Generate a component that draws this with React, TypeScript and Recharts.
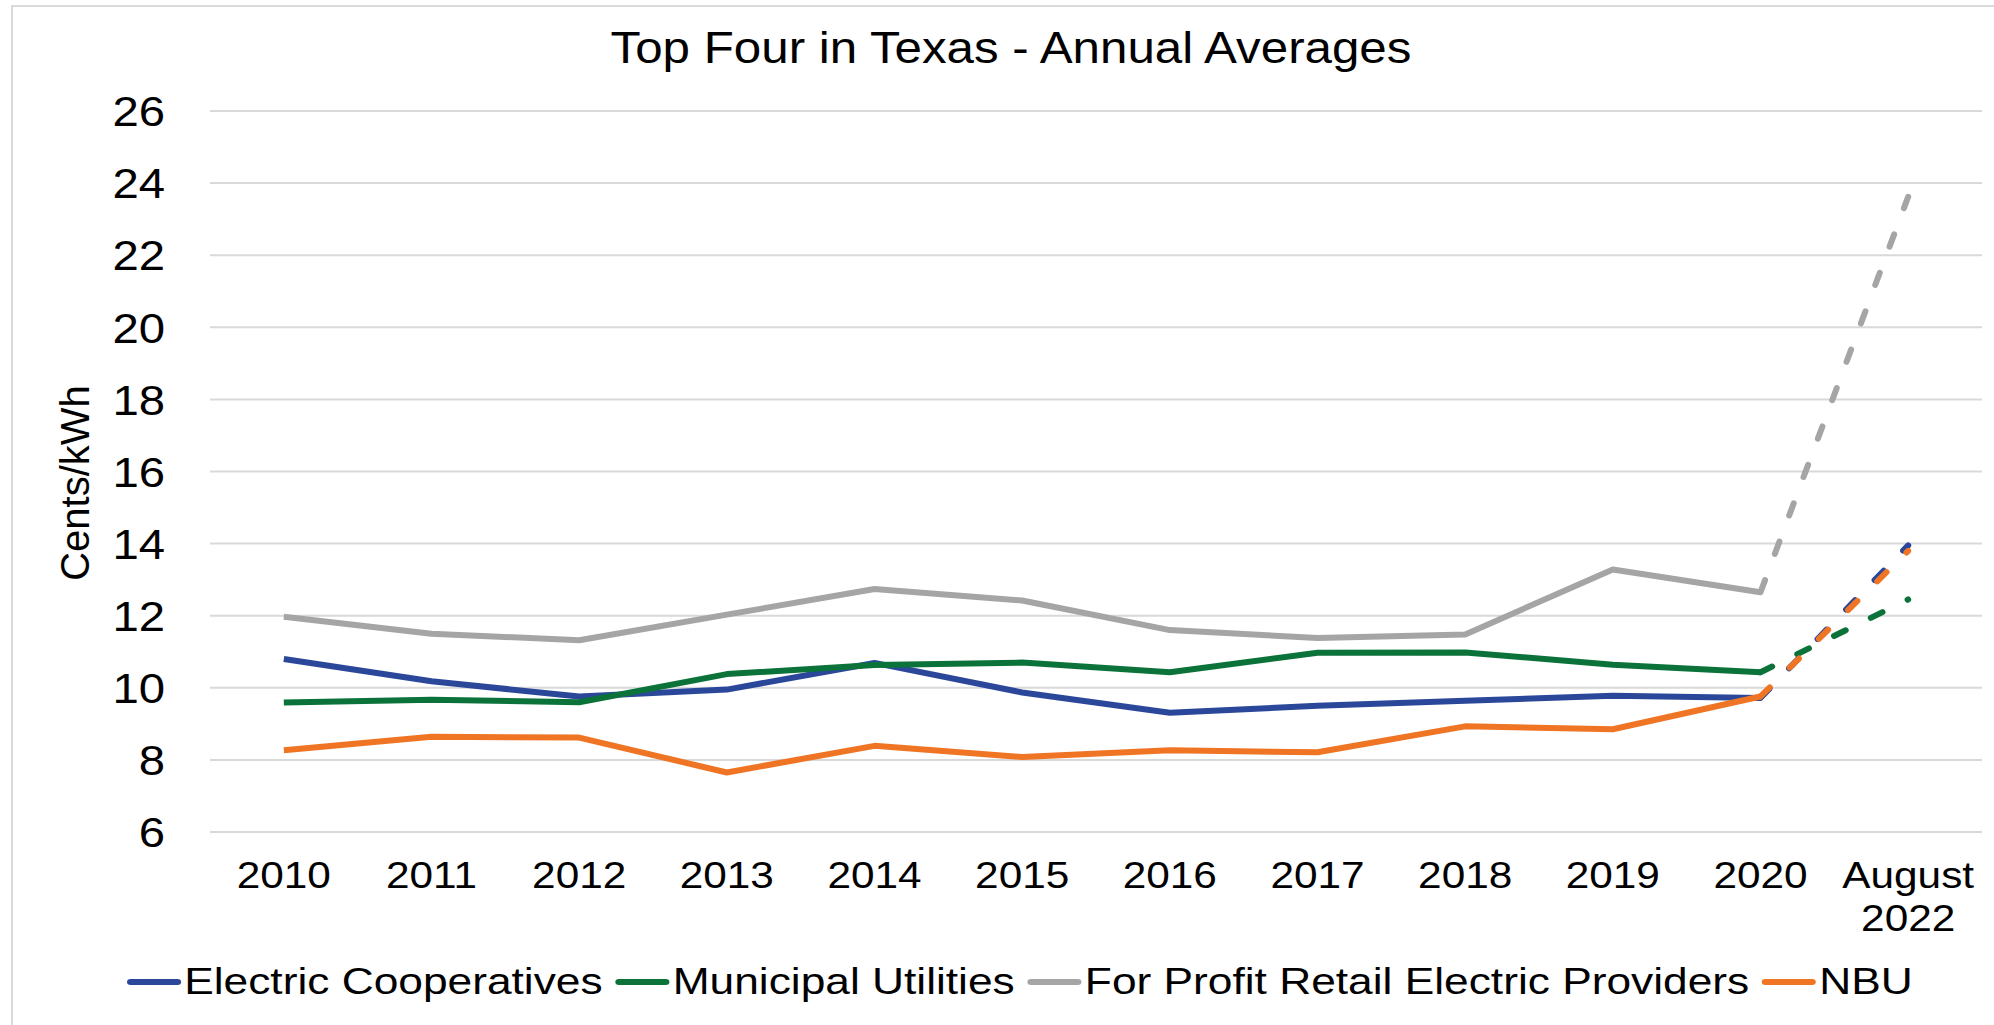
import React from "react";
import { CartesianGrid, Line, LineChart, XAxis, YAxis } from "recharts";

const categories = ["2010", "2011", "2012", "2013", "2014", "2015", "2016", "2017", "2018", "2019", "2020", "August\n2022"];
const electricCooperatives = [10.8, 10.18, 9.76, 9.95, 10.69, 9.87, 9.31, 9.5, 9.64, 9.78, 9.72, 13.95];
const municipalUtilities = [9.59, 9.67, 9.6, 10.38, 10.63, 10.7, 10.43, 10.97, 10.98, 10.64, 10.43, 12.45];
const forProfitRetail = [11.97, 11.5, 11.32, 12.03, 12.74, 12.42, 11.6, 11.38, 11.48, 13.28, 12.65, 23.62];
const nbu = [8.27, 8.64, 8.62, 7.65, 8.39, 8.08, 8.27, 8.21, 8.93, 8.85, 9.76, 13.8];
const yTicks = [6, 8, 10, 12, 14, 16, 18, 20, 22, 24, 26];

const FONT = "'Liberation Sans', Arial, sans-serif";

const series = [
  { key: "coop", name: "Electric Cooperatives", color: "#2B479A", values: electricCooperatives },
  { key: "muni", name: "Municipal Utilities", color: "#0B7339", values: municipalUtilities },
  { key: "rep", name: "For Profit Retail Electric Providers", color: "#A5A5A5", values: forProfitRetail },
  { key: "nbu", name: "NBU", color: "#EF7424", values: nbu },
];

// last actual year (2020) - the August 2022 point is drawn dashed
const lastActual = categories.length - 2;

const rows = categories.map((label, i) => {
  const row: Record<string, string | number | null> = { label };
  series.forEach((s) => {
    row[s.key] = i <= lastActual ? s.values[i] : null;
    row[s.key + "Proj"] = i >= lastActual ? s.values[i] : null;
  });
  return row;
});

function CategoryTick({ x, y, payload }: any) {
  const lines = String(payload.value).split("\n");
  return (
    <g transform={`translate(${x},${y}) scale(1.16,1)`}>
      <text x={0} y={0} textAnchor="middle" fontSize={36.5} fill="#000" fontFamily={FONT}>
        {lines.map((l, i) => (
          <tspan key={i} x={0} dy={i === 0 ? "0.71em" : 43}>
            {l}
          </tspan>
        ))}
      </text>
    </g>
  );
}

function ValueTick({ x, y, payload }: any) {
  return (
    <g transform={`translate(${x},${y}) scale(1.1,1)`}>
      <text x={0} y={0} dy="0.355em" textAnchor="end" fontSize={43} fill="#000" fontFamily={FONT}>
        {payload.value}
      </text>
    </g>
  );
}

export default function App() {
  return (
    <div
      style={{
        position: "absolute",
        left: 0,
        top: 0,
        width: 1994,
        height: 1025,
        background: "#fff",
        fontFamily: FONT,
        overflow: "hidden",
      }}
    >
      <div
        style={{
          position: "absolute",
          left: 11,
          top: 5,
          width: 2000,
          height: 1018,
          borderLeft: "2px solid #d9d9d9",
          borderTop: "2px solid #d9d9d9",
          borderBottom: "2px solid #d9d9d9",
        }}
      />
      <div
        style={{
          position: "absolute",
          left: 0,
          top: 26,
          width: 2022,
          fontSize: 44,
          lineHeight: "44px",
          textAlign: "center",
          color: "#000",
          whiteSpace: "nowrap",
          transform: "scaleX(1.12)",
        }}
      >
        Top Four in Texas - Annual Averages
      </div>
      <div
        style={{
          position: "absolute",
          left: 75,
          top: 483,
          fontSize: 40,
          lineHeight: "40px",
          color: "#000",
          whiteSpace: "nowrap",
          transform: "translate(-50%, -50%) rotate(-90deg)",
        }}
      >
        Cents/kWh
      </div>

      <LineChart
        width={1994}
        height={1025}
        data={rows}
        margin={{ top: 111, right: 12, bottom: 73, left: 0 }}
      >
        <CartesianGrid vertical={false} stroke="#d9d9d9" strokeWidth={2} />
        <XAxis
          dataKey="label"
          scale="band"
          interval={0}
          axisLine={false}
          tickLine={false}
          tickSize={0}
          tickMargin={30}
          height={120}
          tick={<CategoryTick />}
        />
        <YAxis
          domain={[6, 26]}
          ticks={yTicks}
          interval={0}
          axisLine={false}
          tickLine={false}
          tickSize={0}
          tickMargin={45}
          width={210}
          tick={<ValueTick />}
        />
        {series.map((s) => [
          <Line
            key={s.key}
            dataKey={s.key}
            name={s.name}
            stroke={s.color}
            strokeWidth={6}
            strokeLinejoin="round"
            dot={false}
            activeDot={false}
            isAnimationActive={false}
          />,
          <Line
            key={s.key + "Proj"}
            dataKey={s.key + "Proj"}
            name={s.name}
            stroke={s.color}
            strokeWidth={6}
            strokeDasharray="13 28"
            strokeLinecap="round"
            dot={false}
            activeDot={false}
            legendType="none"
            isAnimationActive={false}
          />,
        ])}
      </LineChart>

      <div
        style={{
          position: "absolute",
          left: 127,
          top: 982 - 22,
          height: 44,
          display: "flex",
          alignItems: "center",
          fontSize: 36,
          color: "#000",
          whiteSpace: "nowrap",
          transform: "scaleX(1.23)",
          transformOrigin: "left center",
        }}
      >
        {series.map((s) => (
          <div key={s.key} style={{ display: "flex", alignItems: "center", marginRight: 10.5 }}>
            <span
              style={{
                display: "inline-block",
                width: 44,
                height: 6,
                borderRadius: 3,
                background: s.color,
                marginRight: 2.5,
              }}
            />
            <span>{s.name}</span>
          </div>
        ))}
      </div>
    </div>
  );
}
